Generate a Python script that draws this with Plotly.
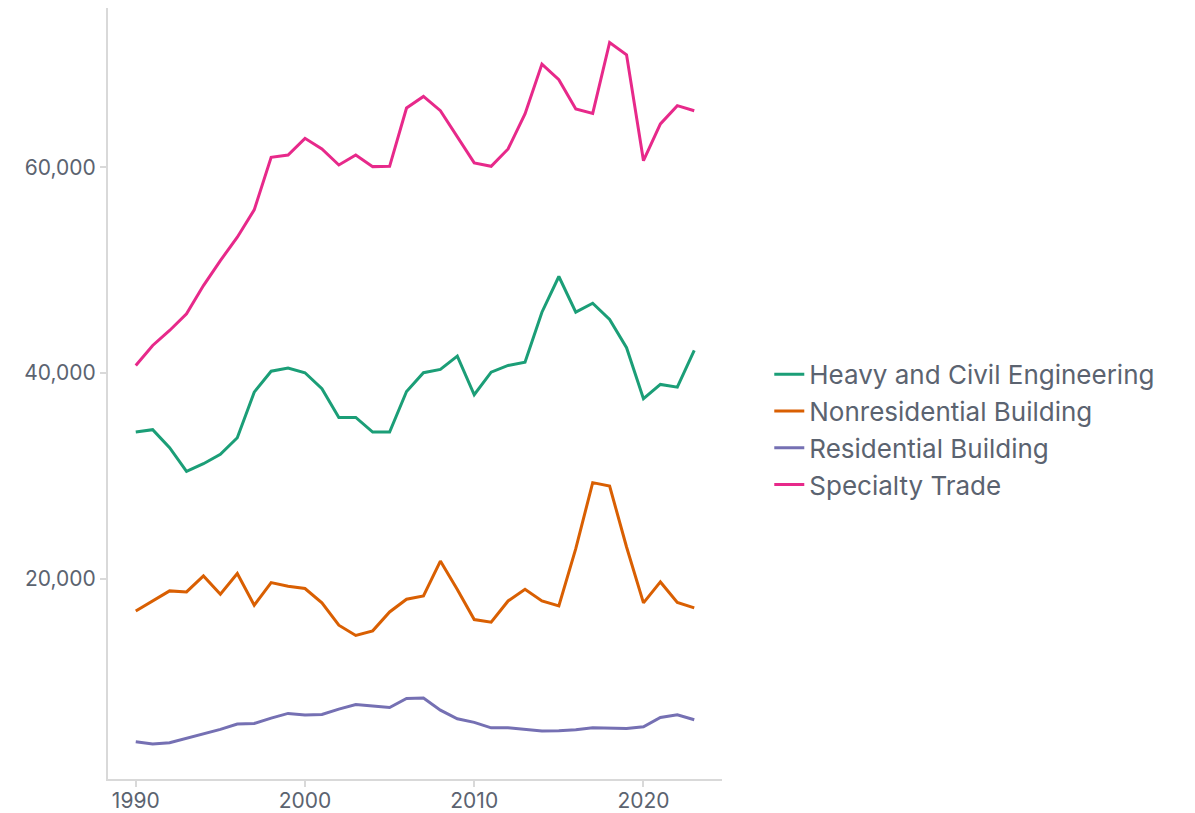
import plotly.graph_objects as go

years = list(range(1990, 2024))

heavy_civil = [34250, 34480, 32730, 30430, 31170, 32080, 33700, 38130, 40170, 40470,
               40020, 38460, 35670, 35670, 34250, 34250, 38200, 40020, 40340, 41630,
               37880, 40080, 40730, 41050, 45910, 49380, 45910, 46780, 45200, 42450,
               37490, 38880, 38620, 42190]
nonresidential = [16850, 17790, 18800, 18700, 20250, 18470, 20490, 17400, 19610, 19250,
                  19030, 17630, 15460, 14460, 14910, 16750, 17990, 18310, 21700, 18930,
                  16010, 15750, 17820, 18960, 17820, 17340, 22910, 29330, 29000, 23070,
                  17630, 19670, 17670, 17140]
residential = [4120, 3900, 4020, 4450, 4870, 5330, 5840, 5910, 6420, 6880,
               6720, 6780, 7300, 7750, 7590, 7460, 8340, 8370, 7200, 6360,
               6010, 5480, 5480, 5350, 5160, 5190, 5290, 5480, 5480, 5420,
               5580, 6490, 6750, 6260]
specialty = [40729, 42670, 44130, 45750, 48500, 50930, 53200, 55860, 60970, 61200,
             62820, 61790, 60230, 61200, 60070, 60100, 65770, 66900, 65510, 62980,
             60430, 60100, 61790, 65190, 70040, 68520, 65670, 65250, 72150, 70950,
             60650, 64220, 66000, 65510]

series_names = ["Heavy and Civil Engineering", "Nonresidential Building",
                "Residential Building", "Specialty Trade"]
series_values = [heavy_civil, nonresidential, residential, specialty]
colors = ["#1b9e77", "#d95f02", "#7570b3", "#e7298a"]

y_ticks = [20000, 40000, 60000]
x_ticks = [1990, 2000, 2010, 2020]

text_color = "#5b6370"
font_family = "Inter, Roboto, sans-serif"

fig = go.Figure()
for name, vals, col in zip(series_names, series_values, colors):
    fig.add_trace(go.Scatter(x=years, y=vals, mode="lines", name=name,
                             line=dict(color=col, width=3)))

fig.update_layout(
    width=1195, height=813,
    margin=dict(l=100, r=481, t=0, b=42, autoexpand=False),
    paper_bgcolor="white", plot_bgcolor="white",
    font=dict(family=font_family, color=text_color, size=20),
    legend=dict(x=1.077, xanchor="left", y=0.453, yanchor="middle",
                font=dict(size=26, color=text_color),
                bgcolor="rgba(0,0,0,0)"),
    showlegend=True,
)
fig.update_xaxes(range=[1988.36, 2024.64], tickvals=x_ticks, automargin=False,
                 showgrid=False, zeroline=False,
                 showline=True, linecolor="#d9d9d9", linewidth=2,
                 ticks="outside", ticklen=6, tickcolor="#d9d9d9", tickwidth=2,
                 tickfont=dict(size=21, color=text_color))
fig.update_yaxes(range=[500, 75500], tickvals=y_ticks, tickformat=",d", automargin=False,
                 showgrid=False, zeroline=False,
                 showline=True, linecolor="#d9d9d9", linewidth=2,
                 ticks="outside", ticklen=6, tickcolor="#d9d9d9", tickwidth=2,
                 tickfont=dict(size=21, color=text_color))
try:
    fig.update_xaxes(ticklabelstandoff=-4)
except ValueError:
    pass

fig.write_html("out.html")
